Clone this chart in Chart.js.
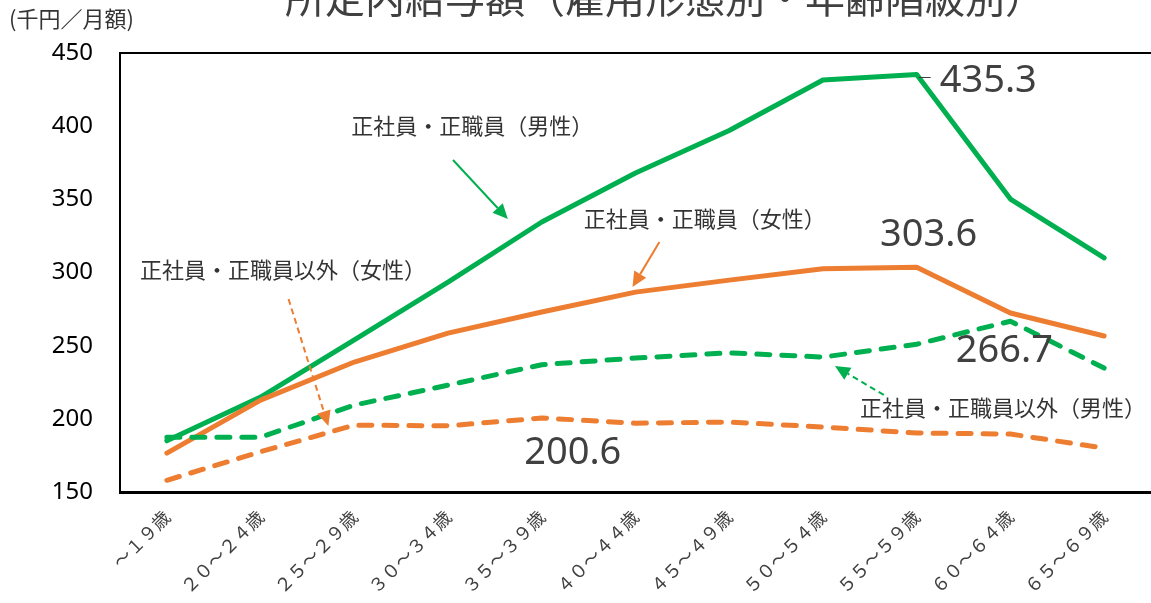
<!DOCTYPE html>
<html lang="ja">
<head>
<meta charset="utf-8">
<title>所定内給与額（雇用形態別・年齢階級別）</title>
<script src="https://cdn.jsdelivr.net/npm/chart.js@4.4.0/dist/chart.umd.min.js"></script>
<style>
    html, body { margin: 0; padding: 0; background: #fff; overflow: hidden; }
</style>
</head>
<body>
<canvas id="wage-chart" width="1151" height="603"></canvas>

<script>
    // 年齢階級 (x axis)
    const ageGroups = ['～１９歳', '２０～２４歳', '２５～２９歳', '３０～３４歳', '３５～３９歳', '４０～４４歳',
        '４５～４９歳', '５０～５４歳', '５５～５９歳', '６０～６４歳', '６５～６９歳'];

    // 所定内給与額 (千円／月額)
    const regularMale = [185.0, 214.9, 254.0, 293.5, 334.5, 368.0, 397.0, 431.5, 435.3, 350.2, 310.0];
    const regularFemale = [176.6, 212.8, 238.8, 258.6, 273.0, 286.6, 294.8, 302.5, 303.6, 272.3, 256.6];
    const nonRegularMale = [187.5, 187.5, 209.4, 223.0, 237.0, 241.5, 245.1, 242.2, 251.0, 266.7, 234.7];
    const nonRegularFemale = [158.0, 177.5, 195.7, 195.2, 200.6, 197.0, 197.8, 194.4, 190.3, 189.6, 180.0];

    const yTicks = [150, 200, 250, 300, 350, 400, 450];

    const GREEN = '#00B050';
    const ORANGE = '#ED7D31';
    const JP_FONT = '"Noto Sans CJK JP", "Noto Sans", sans-serif';
    const NUM_FONT = '"Noto Sans", "Open Sans", sans-serif';

    // series callouts: text + arrow, anchored in data space (category index, value)
    const notes = [
        {text: '正社員・正職員（男性）', at: [1.968, 400.1], from: [3.053, 376.9], to: [3.638, 336.6], color: GREEN, dashed: false},
        {text: '正社員・正職員（女性）', at: [4.447, 336.6], from: [5.255, 320.8], to: [4.968, 290.1], color: ORANGE, dashed: false},
        {text: '正社員・正職員以外（女性）', at: [-0.287, 301.7], from: [1.298, 281.9], to: [1.723, 195.1], color: ORANGE, dashed: true},
        {text: '正社員・正職員以外（男性）', at: [7.394, 207.4], from: [7.649, 216.3], to: [7.128, 236.1], color: GREEN, dashed: true},
    ];

    // big value labels: dataset index, point index, pixel offset
    const valueLabels = [
        {ds: 3, i: 8, dx: 23, dy: 7, align: 'left', leader: true},
        {ds: 2, i: 8, dx: 12, dy: -32, align: 'center'},
        {ds: 1, i: 9, dx: -6, dy: 30, align: 'center'},
        {ds: 0, i: 4, dx: 31, dy: 35, align: 'center'},
    ];

    function drawArrow(ctx, x1, y1, x2, y2, color, dashed) {
        const ang = Math.atan2(y2 - y1, x2 - x1);
        const head = 15, half = 7;
        const bx = x2 - head * Math.cos(ang), by = y2 - head * Math.sin(ang);
        ctx.save();
        ctx.strokeStyle = color;
        ctx.fillStyle = color;
        ctx.lineWidth = 2;
        ctx.setLineDash(dashed ? [6, 4] : []);
        ctx.beginPath();
        ctx.moveTo(x1, y1);
        ctx.lineTo(bx, by);
        ctx.stroke();
        ctx.setLineDash([]);
        ctx.beginPath();
        ctx.moveTo(x2, y2);
        ctx.lineTo(bx + half * Math.sin(ang), by - half * Math.cos(ang));
        ctx.lineTo(bx - half * Math.sin(ang), by + half * Math.cos(ang));
        ctx.closePath();
        ctx.fill();
        ctx.restore();
    }

    const decorations = {
        id: 'decorations',
        afterDatasetsDraw(chart) {
            const {ctx, chartArea, scales: {x, y}} = chart;
            ctx.save();

            // top edge of the plot frame (no right edge in the original)
            ctx.strokeStyle = '#000';
            ctx.lineWidth = 2;
            ctx.beginPath();
            ctx.moveTo(chartArea.left - 1, chartArea.top);
            ctx.lineTo(chartArea.right, chartArea.top);
            ctx.stroke();

            // title, cut off at the top of the picture
            ctx.fillStyle = '#404040';
            ctx.font = '40px ' + JP_FONT;
            ctx.textAlign = 'center';
            ctx.textBaseline = 'ideographic';
            ctx.fillText('所定内給与額（雇用形態別・年齢階級別）', 665, 18);

            // unit label
            ctx.fillStyle = '#333';
            ctx.font = '22px ' + JP_FONT;
            ctx.textAlign = 'left';
            ctx.textBaseline = 'middle';
            ctx.fillText('(千円／月額)', 9, 19);

            // callouts
            notes.forEach(n => {
                ctx.fillStyle = '#333';
                ctx.font = '22px ' + JP_FONT;
                ctx.textAlign = 'left';
                ctx.textBaseline = 'middle';
                ctx.fillText(n.text, x.getPixelForValue(n.at[0]), y.getPixelForValue(n.at[1]));
                drawArrow(ctx,
                    x.getPixelForValue(n.from[0]), y.getPixelForValue(n.from[1]),
                    x.getPixelForValue(n.to[0]), y.getPixelForValue(n.to[1]),
                    n.color, n.dashed);
            });

            // value labels
            valueLabels.forEach(l => {
                const pt = chart.getDatasetMeta(l.ds).data[l.i];
                const value = chart.data.datasets[l.ds].data[l.i];
                ctx.fillStyle = '#404040';
                ctx.font = '38px ' + NUM_FONT;
                ctx.textAlign = l.align;
                ctx.textBaseline = 'middle';
                ctx.fillText(value.toFixed(1), pt.x + l.dx, pt.y + l.dy);
                if (l.leader) {
                    ctx.strokeStyle = '#404040';
                    ctx.lineWidth = 1;
                    ctx.beginPath();
                    ctx.moveTo(pt.x + 2, pt.y + 3);
                    ctx.lineTo(pt.x + 14, pt.y + 3);
                    ctx.stroke();
                }
            });

            ctx.restore();
        }
    };

    function lineSet(label, data, color, dashed) {
        return {
            label: label,
            data: data,
            borderColor: color,
            backgroundColor: color,
            borderWidth: 5,
            borderDash: dashed ? [13, 12] : [],
            borderCapStyle: 'round',
            borderJoinStyle: 'round',
            pointRadius: 0,
            tension: 0,
            fill: false
        };
    }

    const ctx = document.getElementById('wage-chart').getContext('2d');
    new Chart(ctx, {
        type: 'line',
        data: {
            labels: ageGroups,
            datasets: [
                lineSet('正社員・正職員以外（女性）', nonRegularFemale, ORANGE, true),
                lineSet('正社員・正職員以外（男性）', nonRegularMale, GREEN, true),
                lineSet('正社員・正職員（女性）', regularFemale, ORANGE, false),
                lineSet('正社員・正職員（男性）', regularMale, GREEN, false),
            ]
        },
        options: {
            responsive: false,
            animation: false,
            devicePixelRatio: 1,
            layout: {padding: {top: 53, right: 0, bottom: 0, left: 0}},
            plugins: {
                legend: {display: false},
                title: {display: false},
                tooltip: {enabled: false}
            },
            scales: {
                x: {
                    offset: true,
                    grid: {display: false, drawTicks: false},
                    border: {display: true, color: '#000', width: 3},
                    ticks: {
                        minRotation: 45,
                        maxRotation: 45,
                        autoSkip: false,
                        padding: 14,
                        color: '#404040',
                        font: {family: JP_FONT, size: 18}
                    },
                    afterFit: s => { s.height = 111; }
                },
                y: {
                    min: yTicks[0],
                    max: yTicks[yTicks.length - 1],
                    afterBuildTicks: s => { s.ticks = yTicks.map(v => ({value: v})); },
                    grid: {display: false, drawTicks: false},
                    border: {display: true, color: '#000', width: 2},
                    ticks: {
                        padding: 27,
                        color: '#000',
                        font: {family: NUM_FONT, size: 24}
                    },
                    afterFit: s => { s.width = 120; }
                }
            }
        },
        plugins: [decorations]
    });
</script>
</body>
</html>
